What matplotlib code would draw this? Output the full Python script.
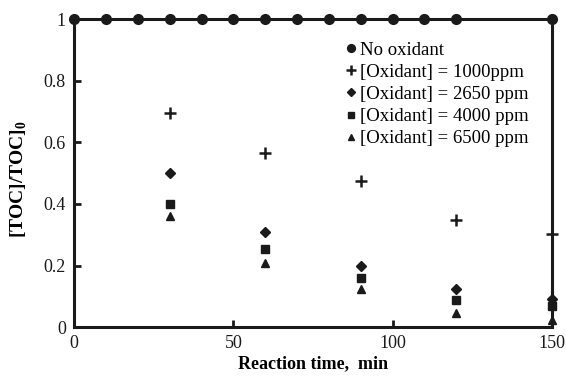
import matplotlib.pyplot as plt

plt.rcParams['font.family'] = ['Liberation Serif', 'DejaVu Serif']
plt.rcParams['mathtext.fontset'] = 'custom'
plt.rcParams['mathtext.rm'] = 'Liberation Serif'
plt.rcParams['mathtext.bf'] = 'Liberation Serif:bold'

# data
t_none = [0, 10, 20, 30, 40, 50, 60, 70, 80, 90, 100, 110, 120, 150]
toc_none = [1] * len(t_none)

t_ox = [30, 60, 90, 120, 150]
toc_1000 = [0.696, 0.565, 0.476, 0.348, 0.302]
toc_2650 = [0.500, 0.308, 0.199, 0.124, 0.091]
toc_4000 = [0.401, 0.255, 0.158, 0.089, 0.070]
toc_6500 = [0.361, 0.209, 0.123, 0.046, 0.022]

fig = plt.figure(figsize=(5.66, 3.76), dpi=100)
ax = fig.add_axes([0.131, 0.130, 0.844, 0.819])

c = '#1a1a1a'
ax.plot(t_none, toc_none, '-', color=c, lw=2, clip_on=False, zorder=5)
ax.plot(t_none, toc_none, 'o', color=c, ms=7, label='No oxidant', clip_on=False, zorder=6)
ax.plot(t_ox, toc_1000, '+', color=c, ms=9, mew=1.8, label='[Oxidant] = 1000ppm', clip_on=False)
ax.plot(t_ox, toc_2650, 'D', color=c, ms=5.5, label='[Oxidant] = 2650 ppm', clip_on=False)
ax.plot(t_ox, toc_4000, 's', color=c, ms=6, label='[Oxidant] = 4000 ppm', clip_on=False)
ax.plot(t_ox, toc_6500, '^', color=c, ms=6, label='[Oxidant] = 6500 ppm', clip_on=False)

ax.set_xlim(0, 150)
ax.set_ylim(0, 1)
ax.set_xticks([0, 50, 100, 150])
ax.set_yticks([0, 0.2, 0.4, 0.6, 0.8, 1])
ax.set_yticklabels(['0', '0.2', '0.4', '0.6', '0.8', '1'])
ax.tick_params(direction='in', length=5, width=2, labelsize=13, colors=c, pad=6)
for s in ax.spines.values():
    s.set_linewidth(2.2)
    s.set_color(c)

ax.set_xlabel('Reaction time,  min', fontsize=13, fontweight='bold', labelpad=2)
ax.set_ylabel('[TOC]/TOC]$_\\mathbf{0}$', fontsize=14, fontweight='bold')
ax.yaxis.set_label_coords(-0.094, 0.48)

ax.legend(loc='upper right', bbox_to_anchor=(0.97, 0.958), frameon=False, fontsize=13.5,
          handlelength=0.6, handletextpad=0.15, labelspacing=0.27, borderpad=0,
          markerscale=0.8)

fig.savefig('out.png', dpi=100)
